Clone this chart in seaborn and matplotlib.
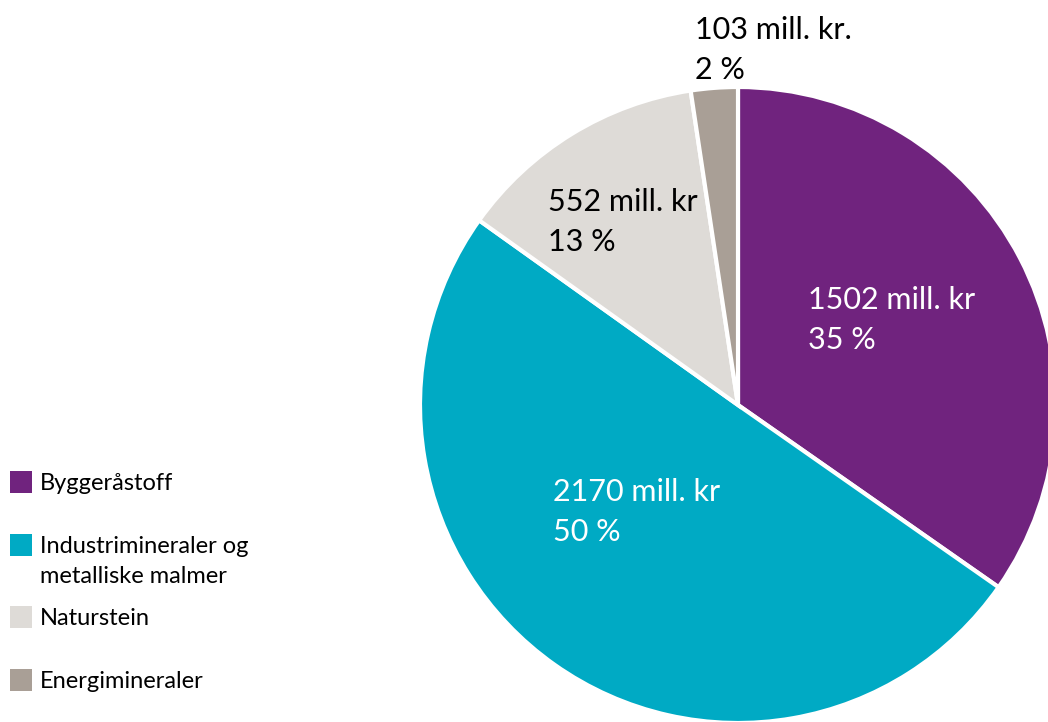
import matplotlib
matplotlib.use("Agg")
import matplotlib.pyplot as plt
import seaborn as sns
from matplotlib.patches import Rectangle

sns.set_theme(style="white")
plt.rcParams['font.family'] = ['Lato', 'DejaVu Sans']

# Data
categories = ["Byggeråstoff", "Industrimineraler og\nmetalliske malmer", "Naturstein", "Energimineraler"]
values = [1502, 2170, 552, 103]
value_labels = ["1502 mill. kr", "2170 mill. kr", "552 mill. kr", "103 mill. kr."]
colors = ["#70237E", "#00AAC4", "#DEDBD7", "#A99F96"]

W, H = 1048, 722
fig = plt.figure(figsize=(W / 100, H / 100), dpi=100)
ax = fig.add_axes([0, 0, 1, 1])
ax.set_xlim(0, W)
ax.set_ylim(0, H)
ax.set_aspect('equal')
ax.axis('off')

cx, cy, r = 738, H - 405, 318
ax.pie(values, colors=colors, startangle=90, counterclock=False,
       center=(cx, cy), radius=r,
       wedgeprops=dict(edgecolor='white', linewidth=3), frame=False)
ax.set_xlim(0, W)
ax.set_ylim(0, H)

total = sum(values)
pcts = [round(v / total * 100) for v in values]
label_pos = [(808, 298), (553, 490), (548, 200), (695, 28)]
label_colors = ['white', 'white', 'black', 'black']
for txt, p, (x, y), c in zip(value_labels, pcts, label_pos, label_colors):
    for i, line in enumerate([txt, f"{p} %"]):
        ax.text(x, H - (y + 40 * i + 11), line, color=c, fontsize=22,
                ha='left', va='baseline')

# Legend (manual)
leg_y = [482, 545, 617, 680]
for cat, col, y in zip(categories, colors, leg_y):
    ax.add_patch(Rectangle((10, H - y - 11), 22, 22, facecolor=col, edgecolor='none', clip_on=False))
    for i, line in enumerate(cat.split("\n")):
        ax.text(40, H - (y + 30 * i + 8), line, fontsize=17, color='black',
                ha='left', va='baseline')

fig.savefig("out.png", dpi=100)
